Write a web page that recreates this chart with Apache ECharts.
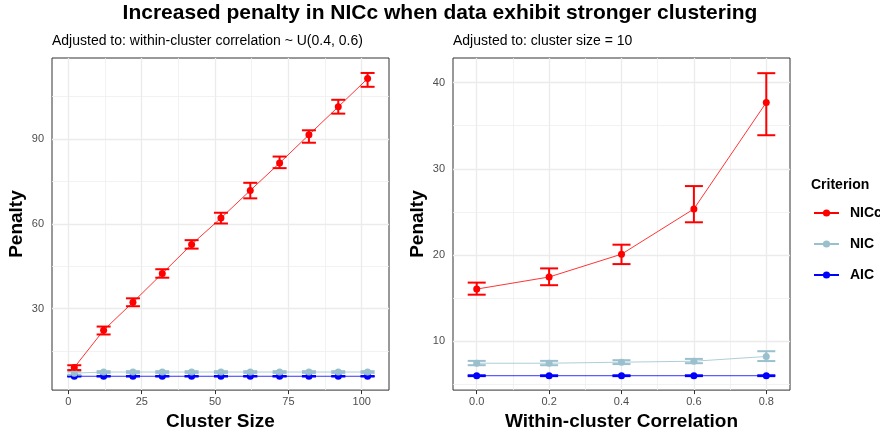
<!DOCTYPE html>
<html>
<head>
<meta charset="utf-8">
<script src="https://cdn.jsdelivr.net/npm/echarts@6/dist/echarts.min.js"></script>
<style>
  html, body { margin: 0; padding: 0; background: #fff; }
  #chart { width: 880px; height: 436px; }
</style>
</head>
<body>
<div id="chart"></div>
<script>
// left panel: penalty vs cluster size
const clusterSizes = [2, 12, 22, 32, 42, 52, 62, 72, 82, 92, 102];
const niccBySize   = [9.1, 22.3, 32.2, 42.4, 52.7, 62.0, 71.8, 81.5, 91.5, 101.4, 111.4];
const niccSizeLo   = [8.2, 20.8, 30.8, 40.9, 51.2, 60.1, 69.0, 79.7, 88.7, 99.0, 108.5];
const niccSizeHi   = [9.9, 23.6, 33.6, 43.9, 54.2, 63.9, 74.5, 83.8, 93.1, 103.9, 113.4];
const nicBySize    = [7.1, 7.5, 7.5, 7.5, 7.5, 7.5, 7.5, 7.5, 7.5, 7.5, 7.5];
const nicSizeLo    = [6.5, 7.2, 7.2, 7.2, 7.2, 7.2, 7.2, 7.2, 7.2, 7.2, 7.2];
const nicSizeHi    = [7.7, 7.8, 7.8, 7.8, 7.8, 7.8, 7.8, 7.8, 7.8, 7.8, 7.8];
const aicBySize    = [6, 6, 6, 6, 6, 6, 6, 6, 6, 6, 6];

// right panel: penalty vs within-cluster correlation
const correlations = [0.0, 0.2, 0.4, 0.6, 0.8];
const niccByCorr   = [16.05, 17.45, 20.1, 25.35, 37.7];
const niccCorrLo   = [15.4, 16.5, 18.95, 23.8, 33.9];
const niccCorrHi   = [16.8, 18.45, 21.2, 28.0, 41.1];
const nicByCorr    = [7.45, 7.45, 7.57, 7.68, 8.23];
const nicCorrLo    = [7.22, 7.22, 7.35, 7.45, 7.7];
const nicCorrHi    = [7.72, 7.72, 7.8, 7.95, 8.84];
const aicByCorr    = [6, 6, 6, 6, 6];

// tick labels and grid lines
const sizeTicks  = [0, 25, 50, 75, 100];
const sizeMinor  = [12.5, 37.5, 62.5, 87.5];
const penTicksL  = [30, 60, 90];
const penMinorL  = [15, 45, 75, 105];
const corrTicks  = [0, 0.2, 0.4, 0.6, 0.8];
const corrMinor  = [0.1, 0.3, 0.5, 0.7];
const penTicksR  = [10, 20, 30, 40];
const penMinorR  = [5, 15, 25, 35];

const COL = { NICc: '#ff0000', NIC: '#9ac0cd', AIC: '#0000ff' };
const FONT = 'Liberation Sans, Arial, sans-serif';

const chart = echarts.init(document.getElementById('chart'));

function zip(xs, a, b) {
  return xs.map((x, i) => b ? [x, a[i], b[i]] : [x, a[i]]);
}

// error bars drawn through the axis scales
function errBars(name, idx, xs, lo, hi, color, hw) {
  return {
    name: name + ' err', type: 'custom', xAxisIndex: idx, yAxisIndex: idx, z: 3,
    data: zip(xs, lo, hi),
    encode: { x: 0, y: [1, 2] },
    renderItem: function (params, api) {
      const top = api.coord([api.value(0), api.value(2)]);
      const bot = api.coord([api.value(0), api.value(1)]);
      const st = { stroke: color, lineWidth: 2 };
      return {
        type: 'group',
        children: [
          { type: 'line', shape: { x1: top[0], y1: top[1], x2: bot[0], y2: bot[1] }, style: st },
          { type: 'line', shape: { x1: top[0] - hw, y1: top[1], x2: top[0] + hw, y2: top[1] }, style: st },
          { type: 'line', shape: { x1: bot[0] - hw, y1: bot[1], x2: bot[0] + hw, y2: bot[1] }, style: st }
        ]
      };
    }
  };
}

function lineSeries(name, idx, xs, ys) {
  return {
    name: name, type: 'line', xAxisIndex: idx, yAxisIndex: idx, z: 4,
    data: zip(xs, ys),
    symbol: 'circle', symbolSize: 7,
    lineStyle: { color: COL[name], width: 0.8 },
    itemStyle: { color: COL[name] },
    emphasis: { disabled: true }
  };
}

function gridLines(idx, xMaj, xMin, yMaj, yMin) {
  const maj = { color: '#ebebeb', width: 1.3, type: 'solid' };
  const min = { color: '#efefef', width: 0.8, type: 'solid' };
  const d = [];
  xMin.forEach(v => d.push({ xAxis: v, lineStyle: min }));
  yMin.forEach(v => d.push({ yAxis: v, lineStyle: min }));
  xMaj.forEach(v => d.push({ xAxis: v, lineStyle: maj }));
  yMaj.forEach(v => d.push({ yAxis: v, lineStyle: maj }));
  return {
    type: 'line', xAxisIndex: idx, yAxisIndex: idx, data: [], z: 1, silent: true,
    markLine: { silent: true, symbol: 'none', label: { show: false }, z: 1, animation: false, data: d }
  };
}

function xAxis(idx, name, min, max, ticks) {
  return {
    type: 'value', gridIndex: idx, min: min, max: max, name: name,
    nameLocation: 'middle', nameGap: 21,
    nameTextStyle: { fontFamily: FONT, fontSize: 19, fontWeight: 'bold', color: '#000' },
    axisLine: { show: false },
    axisTick: { show: true, length: 4, lineStyle: { color: '#333' }, customValues: ticks },
    axisLabel: { customValues: ticks, margin: 6, fontFamily: FONT, fontSize: 11, color: '#4d4d4d',
      formatter: v => idx === 1 ? v.toFixed(1) : String(v) },
    splitLine: { show: false }
  };
}

function yAxis(idx, min, max, ticks) {
  return {
    type: 'value', gridIndex: idx, min: min, max: max, name: 'Penalty',
    nameLocation: 'middle', nameGap: 26,
    nameTextStyle: { fontFamily: FONT, fontSize: 19, fontWeight: 'bold', color: '#000' },
    axisLine: { show: false },
    axisTick: { show: true, length: 4, lineStyle: { color: '#333' }, customValues: ticks },
    axisLabel: { customValues: ticks, margin: 8, fontFamily: FONT, fontSize: 11, color: '#4d4d4d' },
    splitLine: { show: false }
  };
}

const option = {
  animation: false,
  backgroundColor: '#fff',
  title: [
    { text: 'Increased penalty in NICc when data exhibit stronger clustering', left: 'center', top: 3, padding: 0,
      textStyle: { fontFamily: FONT, fontSize: 21, fontWeight: 'bold', color: '#000' } },
    { text: 'Adjusted to: within-cluster correlation ~ U(0.4, 0.6)', left: 52, top: 34, padding: 0,
      textStyle: { fontFamily: FONT, fontSize: 14, fontWeight: 'normal', color: '#000' } },
    { text: 'Adjusted to: cluster size = 10', left: 453, top: 34, padding: 0,
      textStyle: { fontFamily: FONT, fontSize: 14, fontWeight: 'normal', color: '#000' } },
    { text: 'Criterion', left: 811, top: 178, padding: 0,
      textStyle: { fontFamily: FONT, fontSize: 14, fontWeight: 'bold', color: '#000' } }
  ],
  legend: {
    data: ['NICc', 'NIC', 'AIC'], orient: 'vertical', left: 813, top: 206, padding: 0,
    itemWidth: 25, itemHeight: 9, itemGap: 17,
    textStyle: { fontFamily: FONT, fontSize: 14, fontWeight: 'bold', color: '#000', padding: [0, 0, 0, 6] }
  },
  grid: [
    { left: 52, top: 58, width: 337, height: 333, show: true, borderColor: '#333', borderWidth: 1, backgroundColor: '#fff' },
    { left: 453, top: 58, width: 337, height: 333, show: true, borderColor: '#333', borderWidth: 1, backgroundColor: '#fff' }
  ],
  xAxis: [
    xAxis(0, 'Cluster Size', -5.6, 109.3, sizeTicks),
    xAxis(1, 'Within-cluster Correlation', -0.0655, 0.8655, corrTicks)
  ],
  yAxis: [
    yAxis(0, 1.1, 118.7, penTicksL),
    yAxis(1, 4.33, 42.86, penTicksR)
  ],
  series: [
    gridLines(0, sizeTicks, sizeMinor, penTicksL, penMinorL),
    gridLines(1, corrTicks, corrMinor, penTicksR, penMinorR),

    lineSeries('AIC', 0, clusterSizes, aicBySize),
    errBars('AIC', 0, clusterSizes, aicBySize.map(v => v - 0.1), aicBySize.map(v => v + 0.1), COL.AIC, 7),
    lineSeries('NIC', 0, clusterSizes, nicBySize),
    errBars('NIC', 0, clusterSizes, nicSizeLo, nicSizeHi, COL.NIC, 7),
    lineSeries('NICc', 0, clusterSizes, niccBySize),
    errBars('NICc', 0, clusterSizes, niccSizeLo, niccSizeHi, COL.NICc, 7),

    lineSeries('AIC', 1, correlations, aicByCorr),
    errBars('AIC', 1, correlations, aicByCorr.map(v => v - 0.05), aicByCorr.map(v => v + 0.05), COL.AIC, 9),
    lineSeries('NIC', 1, correlations, nicByCorr),
    errBars('NIC', 1, correlations, nicCorrLo, nicCorrHi, COL.NIC, 9),
    lineSeries('NICc', 1, correlations, niccByCorr),
    errBars('NICc', 1, correlations, niccCorrLo, niccCorrHi, COL.NICc, 9)
  ]
};

chart.setOption(option);
</script>
</body>
</html>
